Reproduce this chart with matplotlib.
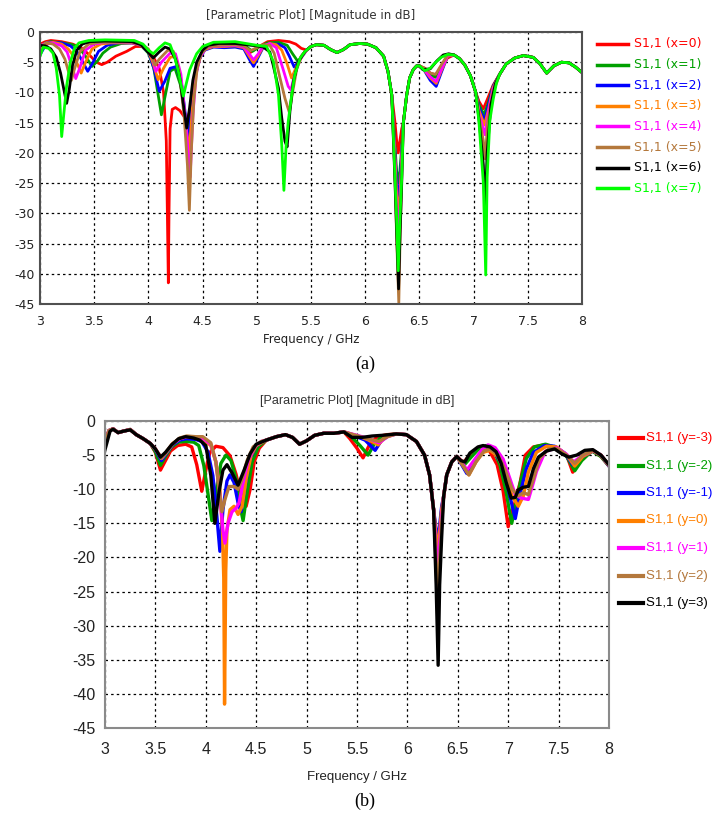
import matplotlib.pyplot as plt
from matplotlib.lines import Line2D

plt.rcParams['axes.unicode_minus'] = False
W, H = 713, 823

### Panel (a): S11 (dB) vs frequency (GHz), parameter x = 0..7
a_labels = ['S1,1 (x=0)', 'S1,1 (x=1)', 'S1,1 (x=2)', 'S1,1 (x=3)',
            'S1,1 (x=4)', 'S1,1 (x=5)', 'S1,1 (x=6)', 'S1,1 (x=7)']
a_colors = ['#ff0000', '#00a000', '#0000ff', '#ff8000',
            '#ff00ff', '#b4783c', '#000000', '#00ff00']

# shared parts of the curves (all traces overlap there)
a_mid = [(5.5, -2.4), (5.55, -2.1), (5.62, -2.2), (5.68, -2.9), (5.74, -3.4), (5.8, -2.9),
         (5.86, -2.1), (5.95, -1.9), (6.02, -2.0), (6.1, -2.6), (6.17, -4.0), (6.21, -6.5),
         (6.245, -10.4)]
a_cross = [(6.352, -15.0), (6.383, -10.4), (6.41, -7.6), (6.444, -6.2), (6.475, -5.6), (6.5, -5.6)]
a_peak = [(6.82, -3.8), (6.87, -4.4), (6.92, -5.5), (6.97, -7.2), (7.02, -10.0)]
a_tail = [(7.24, -7.0), (7.3, -5.3), (7.38, -4.3), (7.46, -3.9), (7.55, -4.2), (7.61, -5.2),
          (7.674, -6.8), (7.74, -5.6), (7.81, -5.0), (7.88, -5.1), (7.94, -5.8), (8.0, -6.7)]

a_x0_head = [(3.0, -2.0), (3.05, -1.6), (3.1, -1.4), (3.2, -1.6), (3.3, -2.0), (3.38, -2.6),
             (3.45, -3.7), (3.52, -5.0), (3.57, -5.4), (3.62, -5.0), (3.7, -4.0), (3.8, -3.2),
             (3.88, -2.4), (3.95, -2.4), (4.0, -3.0), (4.05, -4.3), (4.1, -6.0), (4.14, -10.0),
             (4.165, -18.0), (4.175, -30.0), (4.184, -41.5), (4.19, -30.0), (4.2, -16.0),
             (4.22, -12.8), (4.25, -12.5), (4.29, -13.0), (4.33, -14.0), (4.36, -14.5),
             (4.39, -12.5), (4.42, -8.5), (4.46, -5.0), (4.5, -3.2), (4.55, -2.5), (4.65, -2.1),
             (4.8, -2.0), (4.88, -2.3), (4.94, -3.4), (5.0, -2.6), (5.1, -1.6), (5.2, -1.4),
             (5.3, -1.6), (5.36, -2.0), (5.41, -2.7), (5.46, -3.0)]
a_x0_dip = [(6.275, -15.0), (6.29, -18.0), (6.305, -20.0), (6.32, -18.0), (6.337, -16.0)]
a_x0_band = [(6.55, -6.0), (6.6, -6.8), (6.65, -7.1), (6.7, -5.8), (6.76, -4.3)]
a_x0_notch = [(7.05, -11.5), (7.09, -12.7), (7.13, -11.0), (7.18, -8.8)]

a_x1_head = [(3.0, -2.5), (3.05, -1.8), (3.1, -1.6), (3.2, -1.8), (3.3, -2.1), (3.36, -2.6),
             (3.42, -4.0), (3.48, -5.7), (3.53, -4.8), (3.58, -3.5), (3.65, -2.5), (3.75, -1.9),
             (3.85, -1.8), (3.93, -2.2), (4.0, -3.5), (4.05, -6.0), (4.09, -10.4), (4.12, -13.7),
             (4.15, -11.0), (4.2, -6.5), (4.245, -6.0), (4.3, -9.0), (4.34, -14.0),
             (4.365, -16.5), (4.39, -13.0), (4.42, -8.5), (4.46, -5.0), (4.5, -3.2),
             (4.55, -2.6), (4.65, -2.2), (4.8, -2.1), (4.9, -2.4), (4.96, -3.2), (5.02, -2.5),
             (5.1, -1.8), (5.2, -1.7), (5.28, -2.2), (5.33, -3.6), (5.38, -4.9), (5.42, -4.0),
             (5.46, -3.0)]
a_x1_dip = [(6.275, -19.0), (6.29, -23.0), (6.305, -25.0), (6.32, -23.0), (6.337, -19.0)]
a_x1_band = [(6.55, -6.3), (6.6, -7.2), (6.65, -7.5), (6.7, -5.8), (6.76, -3.8)]
a_x1_notch = [(7.05, -12.0), (7.095, -13.7), (7.13, -12.0), (7.18, -9.0)]

a_x2_head = [(3.0, -3.8), (3.05, -2.2), (3.1, -1.7), (3.2, -1.8), (3.28, -2.3), (3.34, -3.2),
             (3.39, -4.8), (3.44, -6.5), (3.49, -5.0), (3.54, -3.2), (3.62, -2.2), (3.72, -1.8),
             (3.85, -1.8), (3.93, -2.2), (4.0, -3.3), (4.05, -6.0), (4.1, -9.8), (4.15, -8.2),
             (4.2, -6.0), (4.26, -5.7), (4.31, -9.0), (4.35, -15.0), (4.37, -18.0),
             (4.395, -13.0), (4.43, -7.5), (4.47, -4.5), (4.52, -3.0), (4.6, -2.5), (4.7, -2.6),
             (4.8, -2.5), (4.88, -2.8), (4.93, -4.5), (4.97, -5.7), (5.01, -4.3), (5.06, -2.5),
             (5.12, -2.0), (5.2, -2.0), (5.26, -2.6), (5.3, -4.0), (5.345, -5.8), (5.38, -5.0),
             (5.42, -3.8), (5.46, -3.0)]
a_x2_dip = [(6.275, -20.0), (6.29, -25.0), (6.305, -28.0), (6.32, -25.0), (6.337, -20.0)]
a_x2_band = [(6.55, -6.5), (6.6, -8.0), (6.655, -9.0), (6.7, -6.8), (6.76, -4.0)]
a_x2_notch = [(7.05, -12.5), (7.1, -14.6), (7.13, -12.5), (7.18, -9.0)]

a_x3_head = [(3.0, -3.0), (3.06, -2.0), (3.12, -1.7), (3.2, -2.0), (3.26, -2.8), (3.31, -4.0),
             (3.35, -5.5), (3.38, -6.8), (3.42, -5.0), (3.48, -2.8), (3.56, -2.0), (3.65, -1.8),
             (3.85, -1.8), (3.93, -2.2), (4.0, -3.2), (4.04, -5.0), (4.09, -7.9), (4.14, -6.0),
             (4.2, -4.2), (4.25, -4.0), (4.3, -8.0), (4.35, -16.0), (4.375, -20.0),
             (4.4, -14.0), (4.43, -7.5), (4.47, -4.3), (4.52, -2.9), (4.6, -2.4), (4.7, -2.4),
             (4.8, -2.3), (4.88, -2.6), (4.93, -4.0), (4.97, -5.1), (5.01, -4.0), (5.06, -2.4),
             (5.12, -1.9), (5.18, -2.1), (5.23, -3.0), (5.28, -5.3), (5.32, -7.6), (5.36, -6.0),
             (5.41, -4.0), (5.46, -3.0)]
a_x3_dip = [(6.275, -21.0), (6.29, -27.0), (6.305, -30.0), (6.32, -27.0), (6.337, -21.0)]
a_x3_band = [(6.55, -6.4), (6.6, -7.6), (6.655, -8.5), (6.7, -6.5), (6.76, -4.0)]
a_x3_notch = [(7.05, -13.0), (7.1, -15.4), (7.135, -13.0), (7.18, -9.2)]

a_x4_head = [(3.0, -2.3), (3.06, -1.8), (3.12, -1.8), (3.2, -2.3), (3.25, -3.3), (3.29, -5.5),
             (3.33, -7.7), (3.37, -5.8), (3.42, -3.0), (3.5, -2.0), (3.6, -1.7), (3.85, -1.8),
             (3.93, -2.1), (4.0, -3.0), (4.04, -4.5), (4.07, -6.5), (4.12, -5.0), (4.2, -3.5),
             (4.25, -3.6), (4.3, -7.0), (4.35, -16.0), (4.385, -24.0), (4.41, -14.0),
             (4.44, -7.0), (4.48, -4.0), (4.53, -2.7), (4.6, -2.3), (4.7, -2.3), (4.8, -2.2),
             (4.88, -2.5), (4.93, -3.6), (4.97, -4.6), (5.01, -3.7), (5.06, -2.3), (5.12, -1.9),
             (5.18, -2.6), (5.24, -6.0), (5.29, -9.0), (5.315, -9.6), (5.35, -7.0),
             (5.4, -4.5), (5.46, -3.0)]
a_x4_dip = [(6.275, -22.0), (6.29, -29.0), (6.305, -34.0), (6.32, -29.0), (6.337, -22.0)]
a_x4_band = [(6.55, -6.3), (6.6, -7.4), (6.655, -8.2), (6.7, -6.3), (6.76, -3.9)]
a_x4_notch = [(7.05, -13.5), (7.105, -17.0), (7.14, -13.0), (7.18, -9.5)]

a_x5_head = [(3.0, -2.5), (3.06, -1.8), (3.12, -2.0), (3.18, -2.8), (3.23, -4.5), (3.27, -7.0),
             (3.29, -8.0), (3.32, -6.0), (3.37, -3.2), (3.45, -2.0), (3.55, -1.7), (3.85, -1.7),
             (3.93, -2.0), (4.0, -2.8), (4.03, -4.0), (4.06, -5.5), (4.1, -4.5), (4.18, -3.0),
             (4.23, -3.2), (4.28, -6.0), (4.33, -14.0), (4.36, -22.0), (4.378, -29.5),
             (4.395, -20.0), (4.42, -11.0), (4.45, -6.0), (4.49, -3.5), (4.55, -2.4),
             (4.65, -2.2), (4.8, -2.1), (4.88, -2.3), (4.94, -3.1), (5.0, -2.6), (5.06, -2.1),
             (5.12, -2.2), (5.16, -3.5), (5.21, -7.3), (5.26, -11.0), (5.3, -13.3),
             (5.33, -10.0), (5.37, -6.0), (5.42, -3.8), (5.46, -3.0)]
a_x5_dip = [(6.275, -24.0), (6.29, -34.0), (6.31, -44.8), (6.322, -34.0), (6.337, -24.0)]
a_x5_band = [(6.55, -6.0), (6.6, -6.8), (6.65, -7.0), (6.7, -5.5), (6.76, -3.8)]
a_x5_notch = [(7.05, -14.0), (7.09, -18.0), (7.107, -21.0), (7.13, -15.0), (7.18, -10.0)]

a_x6_head = [(3.0, -2.2), (3.05, -2.3), (3.1, -2.8), (3.15, -4.2), (3.19, -6.8), (3.22, -9.5),
             (3.246, -11.8), (3.27, -9.5), (3.3, -5.5), (3.34, -3.0), (3.39, -2.0), (3.46, -1.6),
             (3.6, -1.5), (3.85, -1.6), (3.93, -2.1), (3.98, -3.0), (4.045, -4.3), (4.1, -3.3),
             (4.153, -2.5), (4.2, -2.8), (4.25, -4.5), (4.29, -7.6), (4.33, -13.0),
             (4.353, -15.9), (4.38, -12.5), (4.41, -8.0), (4.445, -5.0), (4.5, -3.0),
             (4.55, -2.2), (4.65, -1.9), (4.8, -1.9), (4.9, -2.1), (5.0, -2.3), (5.06, -2.5),
             (5.12, -3.3), (5.15, -5.4), (5.2, -9.3), (5.23, -14.2), (5.26, -18.1), (5.28, -19.0),
             (5.306, -13.1), (5.337, -8.2), (5.383, -4.9), (5.45, -3.1)]
a_x6_dip = [(6.275, -25.0), (6.29, -33.0), (6.308, -42.5), (6.322, -33.0), (6.337, -25.0)]
a_x6_band = [(6.53, -6.2), (6.6, -6.1), (6.66, -4.8), (6.72, -3.8), (6.77, -3.6)]
a_x6_notch = [(7.05, -14.5), (7.09, -22.0), (7.105, -30.0), (7.125, -20.0), (7.16, -12.0),
              (7.2, -8.6)]

a_x7_head = [(3.0, -4.0), (3.03, -2.5), (3.08, -2.7), (3.12, -3.5), (3.15, -6.0), (3.18, -10.5),
             (3.2, -17.3), (3.22, -13.5), (3.245, -9.0), (3.28, -5.0), (3.32, -2.6), (3.36, -1.8),
             (3.45, -1.4), (3.6, -1.3), (3.87, -1.4), (3.95, -2.0), (4.0, -3.0), (4.045, -3.6),
             (4.1, -2.6), (4.153, -1.8), (4.2, -2.1), (4.24, -4.0), (4.276, -6.5),
             (4.322, -10.6), (4.35, -8.5), (4.38, -6.3), (4.445, -3.6), (4.5, -2.4), (4.6, -1.7),
             (4.8, -1.6), (4.9, -1.9), (5.0, -2.2), (5.09, -2.4), (5.153, -4.9), (5.2, -10.4),
             (5.23, -18.6), (5.25, -26.2), (5.27, -19.0), (5.29, -14.8), (5.322, -10.4),
             (5.35, -7.1), (5.4, -4.3), (5.445, -3.2)]
a_x7_dip = [(6.275, -24.0), (6.29, -31.0), (6.305, -39.5), (6.32, -31.0), (6.337, -24.0)]
a_x7_band = [(6.55, -6.4), (6.6, -6.0), (6.64, -5.2), (6.7, -4.2), (6.76, -3.7)]
a_x7_notch = [(7.05, -15.0), (7.09, -25.0), (7.112, -40.2), (7.125, -24.0), (7.15, -14.6),
              (7.18, -11.2), (7.21, -8.5)]

a_heads = [a_x0_head, a_x1_head, a_x2_head, a_x3_head, a_x4_head, a_x5_head, a_x6_head, a_x7_head]
a_dips = [a_x0_dip, a_x1_dip, a_x2_dip, a_x3_dip, a_x4_dip, a_x5_dip, a_x6_dip, a_x7_dip]
a_bands = [a_x0_band, a_x1_band, a_x2_band, a_x3_band, a_x4_band, a_x5_band, a_x6_band, a_x7_band]
a_notches = [a_x0_notch, a_x1_notch, a_x2_notch, a_x3_notch, a_x4_notch, a_x5_notch,
             a_x6_notch, a_x7_notch]

### Panel (b): S11 (dB) vs frequency (GHz), parameter y = -3..3
b_labels = ['S1,1 (y=-3)', 'S1,1 (y=-2)', 'S1,1 (y=-1)', 'S1,1 (y=0)',
            'S1,1 (y=1)', 'S1,1 (y=2)', 'S1,1 (y=3)']
b_colors = ['#ff0000', '#00a000', '#0000ff', '#ff8000', '#ff00ff', '#b4783c', '#000000']

b_head = [(3.04, -1.4), (3.08, -1.15), (3.13, -1.7), (3.18, -1.5), (3.25, -1.25), (3.31, -2.0),
          (3.38, -2.6), (3.45, -3.3)]
b_plateau = [(4.6, -2.8), (4.7, -2.3), (4.79, -2.0), (4.86, -2.4), (4.93, -3.4), (5.0, -2.9),
             (5.08, -2.1), (5.17, -1.8), (5.27, -1.8), (5.37, -1.6)]
b_drop = [(5.89, -1.9), (5.99, -2.0), (6.09, -3.0), (6.17, -5.0), (6.22, -7.9), (6.26, -13.0)]
b_cross = [(6.36, -11.0), (6.39, -7.9), (6.44, -6.0), (6.49, -5.2)]

b_m3 = [[(3.0, -3.0)], b_head,
        [(3.5, -4.6), (3.55, -7.2), (3.6, -5.8), (3.65, -4.4), (3.72, -3.6), (3.8, -3.4),
         (3.86, -3.8), (3.91, -6.4), (3.96, -10.3), (4.0, -7.2), (4.04, -4.6), (4.1, -3.7),
         (4.17, -3.9), (4.24, -5.1), (4.3, -7.8), (4.35, -11.0), (4.4, -12.5), (4.44, -10.0),
         (4.48, -6.0), (4.53, -4.0)],
        b_plateau,
        [(5.43, -2.6), (5.5, -4.0), (5.56, -5.4), (5.62, -3.6), (5.7, -2.3), (5.8, -2.0)],
        b_drop,
        [(6.285, -17.0), (6.3, -20.0), (6.315, -17.0), (6.34, -13.0)],
        b_cross,
        [(6.555, -6.1), (6.62, -5.0), (6.72, -4.0), (6.8, -4.0), (6.89, -6.4), (6.95, -10.3),
         (7.0, -15.5), (7.035, -13.5), (7.07, -11.8), (7.12, -8.9), (7.17, -5.0), (7.25, -3.8),
         (7.36, -3.5), (7.48, -3.9), (7.58, -5.0), (7.64, -7.5), (7.7, -6.0), (7.75, -5.3),
         (7.83, -4.3), (7.92, -5.2), (8.0, -6.6)]]
b_m2 = [[(3.0, -3.2)], b_head,
        [(3.5, -4.5), (3.55, -6.5), (3.6, -5.2), (3.66, -3.8), (3.73, -3.1), (3.8, -3.0),
         (3.88, -3.1), (3.93, -3.6), (3.98, -6.5), (4.02, -10.5), (4.06, -14.6), (4.1, -10.5),
         (4.15, -6.2), (4.2, -5.0), (4.25, -5.8), (4.3, -8.5), (4.34, -12.5), (4.37, -14.6),
         (4.41, -10.5), (4.46, -6.0), (4.52, -3.8)],
        b_plateau,
        [(5.45, -2.4), (5.53, -3.6), (5.61, -5.0), (5.67, -3.4), (5.75, -2.2)],
        b_drop,
        [(6.285, -18.0), (6.3, -21.0), (6.315, -18.0), (6.34, -13.5)],
        b_cross,
        [(6.56, -6.5), (6.62, -5.5), (6.7, -4.2), (6.78, -3.6), (6.85, -4.0), (6.92, -6.5),
         (6.98, -10.5), (7.035, -15.0), (7.07, -12.5), (7.12, -9.0), (7.18, -5.5),
         (7.26, -3.8), (7.37, -3.4), (7.48, -3.9), (7.58, -5.2), (7.66, -7.3), (7.73, -5.8),
         (7.83, -4.4), (7.92, -5.2), (8.0, -6.6)]]
b_m1 = [[(3.0, -3.0)], b_head,
        [(3.5, -4.2), (3.56, -5.8), (3.61, -4.7), (3.67, -3.5), (3.74, -2.8), (3.81, -2.6),
         (3.9, -2.7), (3.96, -3.0), (4.02, -4.5), (4.07, -8.0), (4.11, -14.0), (4.14, -19.1),
         (4.17, -13.0), (4.21, -8.8), (4.24, -7.9), (4.28, -9.0), (4.32, -12.0), (4.35, -13.3),
         (4.39, -9.5), (4.44, -5.5), (4.5, -3.6)],
        b_plateau,
        [(5.48, -2.2), (5.58, -2.8), (5.68, -4.3), (5.74, -2.9), (5.82, -2.1)],
        b_drop,
        [(6.285, -16.0), (6.3, -17.5), (6.315, -16.0), (6.34, -12.5)],
        b_cross,
        [(6.59, -7.7), (6.66, -6.0), (6.73, -4.6), (6.8, -4.2), (6.87, -4.6), (6.94, -6.5),
         (7.0, -10.0), (7.07, -14.3), (7.12, -10.5), (7.18, -7.0), (7.25, -4.6), (7.36, -3.6),
         (7.46, -3.7), (7.56, -4.7), (7.64, -6.4), (7.72, -5.4), (7.84, -4.4), (7.92, -5.0),
         (8.0, -6.6)]]
b_0 = [[(3.0, -3.0)], b_head,
       [(3.5, -4.1), (3.56, -5.4), (3.61, -4.5), (3.67, -3.3), (3.74, -2.6), (3.81, -2.3),
        (3.9, -2.4), (3.97, -2.6), (4.05, -3.6), (4.1, -6.0), (4.14, -10.0), (4.165, -16.0),
        (4.178, -23.0), (4.186, -41.5), (4.192, -32.0), (4.198, -22.0), (4.21, -16.0),
        (4.24, -13.0), (4.28, -12.5), (4.32, -13.7), (4.36, -12.5), (4.4, -8.5), (4.45, -5.0),
        (4.5, -3.6)],
       b_plateau,
       [(5.55, -2.4), (5.65, -3.0), (5.71, -3.5), (5.77, -2.5), (5.85, -2.0)],
       b_drop,
       [(6.285, -17.0), (6.3, -19.0), (6.315, -17.0), (6.34, -13.0)],
       b_cross,
       [(6.55, -6.5), (6.61, -7.9), (6.68, -6.0), (6.75, -4.6), (6.82, -4.3), (6.9, -5.2),
        (6.97, -7.8), (7.04, -11.0), (7.1, -12.5), (7.15, -11.0), (7.2, -7.5), (7.28, -4.6),
        (7.38, -3.7), (7.48, -3.8), (7.58, -5.0), (7.66, -6.6), (7.74, -5.2), (7.84, -4.4),
        (7.92, -5.0), (8.0, -6.5)]]
b_p1 = [[(3.0, -3.0)], b_head,
        [(3.5, -4.1), (3.56, -5.5), (3.61, -4.6), (3.67, -3.4), (3.74, -2.6), (3.81, -2.3),
         (3.9, -2.4), (3.97, -2.5), (4.05, -3.4), (4.1, -6.0), (4.14, -11.0), (4.17, -16.0),
         (4.19, -17.9), (4.22, -15.0), (4.26, -13.3), (4.3, -12.8), (4.33, -12.0), (4.37, -9.0),
         (4.42, -5.8), (4.48, -3.8), (4.55, -3.0)],
        b_plateau,
        [(5.6, -2.5), (5.72, -3.2), (5.8, -2.3)],
        b_drop,
        [(6.285, -19.0), (6.3, -23.0), (6.315, -19.0), (6.34, -14.0)],
        b_cross,
        [(6.54, -6.0), (6.59, -7.2), (6.66, -5.8), (6.74, -4.2), (6.8, -3.5), (6.87, -3.9),
         (6.95, -5.6), (7.02, -8.6), (7.07, -10.8), (7.13, -11.3), (7.2, -11.5), (7.24, -9.5),
         (7.28, -7.4), (7.365, -4.5), (7.48, -3.9), (7.58, -4.9), (7.65, -6.0), (7.74, -5.0),
         (7.84, -4.3), (7.92, -5.0), (8.0, -6.5)]]
b_p2 = [[(3.0, -3.0)], b_head,
        [(3.5, -4.1), (3.56, -5.5), (3.61, -4.6), (3.67, -3.4), (3.74, -2.5), (3.81, -2.2),
         (3.9, -2.3), (3.97, -2.3), (4.05, -3.2), (4.1, -6.0), (4.14, -11.0), (4.16, -13.3),
         (4.19, -11.5), (4.23, -9.6), (4.28, -9.6), (4.32, -10.0), (4.36, -8.5), (4.41, -5.8),
         (4.47, -3.8), (4.55, -3.0)],
        b_plateau,
        [(5.6, -2.6), (5.72, -3.0), (5.8, -2.3)],
        b_drop,
        [(6.285, -21.0), (6.303, -30.0), (6.318, -21.0), (6.34, -15.0)],
        b_cross,
        [(6.55, -6.5), (6.61, -7.9), (6.68, -6.0), (6.76, -4.4), (6.82, -4.1), (6.9, -5.0),
         (6.97, -7.2), (7.04, -10.0), (7.1, -11.0), (7.15, -10.5), (7.2, -10.8), (7.25, -8.5),
         (7.31, -5.5), (7.4, -4.1), (7.48, -4.0), (7.58, -5.0), (7.66, -6.2), (7.74, -5.0),
         (7.84, -4.3), (7.92, -5.0), (8.0, -6.5)]]
b_p3 = [[(3.0, -4.2), (3.05, -1.5), (3.08, -1.2), (3.13, -1.7), (3.18, -1.5), (3.25, -1.3),
         (3.31, -2.0), (3.38, -2.6), (3.45, -3.3)],
        [(3.5, -4.1), (3.55, -5.3), (3.6, -4.6), (3.66, -3.5), (3.73, -2.6), (3.8, -2.3),
         (3.88, -2.5), (3.94, -2.8), (4.0, -3.6), (4.05, -8.0), (4.09, -15.0), (4.13, -10.5),
         (4.17, -7.2), (4.21, -6.4), (4.26, -7.6), (4.32, -9.4), (4.38, -7.2), (4.44, -4.8),
         (4.5, -3.4)],
        b_plateau,
        [(5.45, -2.4), (5.55, -2.4), (5.65, -2.2), (5.75, -2.1)],
        b_drop,
        [(6.285, -24.0), (6.305, -35.8), (6.32, -24.0), (6.34, -17.0)],
        b_cross,
        [(6.53, -5.8), (6.57, -6.0), (6.62, -4.7), (6.7, -3.8), (6.75, -3.6), (6.82, -3.8),
         (6.88, -4.5), (6.93, -6.2), (6.98, -9.0), (7.03, -11.3), (7.07, -11.2), (7.1, -10.1),
         (7.15, -9.7), (7.2, -9.6), (7.25, -7.0), (7.3, -5.3), (7.38, -4.4), (7.46, -4.1),
         (7.53, -4.8), (7.6, -5.3), (7.68, -5.0), (7.76, -4.3), (7.84, -4.2), (7.92, -5.0),
         (8.0, -6.4)]]
b_curves = [b_m3, b_m2, b_m1, b_0, b_p1, b_p2, b_p3]


def px(x, y):
    return x / W, 1 - y / H


def style_axes(ax, font, size, spine_col, pad_x, pad_y):
    ax.set_xlim(3, 8)
    ax.set_ylim(-45, 0)
    ax.set_xticks([3, 3.5, 4, 4.5, 5, 5.5, 6, 6.5, 7, 7.5, 8])
    ax.set_xticklabels(['3', '3.5', '4', '4.5', '5', '5.5', '6', '6.5', '7', '7.5', '8'])
    ax.set_yticks(range(-45, 1, 5))
    ax.grid(True, color='black', linestyle=(0, (2, 2.5)), linewidth=0.9)
    ax.tick_params(length=0, labelsize=size, colors='#222222')
    ax.tick_params(axis='x', pad=pad_x)
    ax.tick_params(axis='y', pad=pad_y)
    for lab in ax.get_xticklabels() + ax.get_yticklabels():
        lab.set_family(font)
    for s in ax.spines.values():
        s.set_color(spine_col)
        s.set_linewidth(1.5)


fig = plt.figure(figsize=(W / 100, H / 100), dpi=100)

### (a)
axa = fig.add_axes([40 / W, 1 - 304 / H, 542 / W, 272 / H])
for i in range(8):
    pts = a_heads[i] + a_mid + a_dips[i] + a_cross + a_bands[i] + a_peak + a_notches[i] + a_tail
    f, s = zip(*pts)
    axa.plot(f, s, color=a_colors[i], lw=2.0, solid_joinstyle='round')
style_axes(axa, 'DejaVu Sans', 9, '#505050', 8, 4)
fig.text(*px(311, 16), '[Parametric Plot] [Magnitude in dB]', ha='center', va='center',
         fontsize=8.5, color='#333333')
fig.text(*px(311, 340), 'Frequency / GHz', ha='center', va='center', fontsize=8.5, color='#222222')
fig.text(*px(365, 364), '(a)', ha='center', va='center', fontsize=13, family='Liberation Serif')
for i in range(8):
    y = 44 + 20.6 * i
    fig.add_artist(Line2D([597 / W, 628 / W], [1 - y / H] * 2, color=a_colors[i], lw=2.5))
    fig.text(*px(634, y), a_labels[i], ha='left', va='center', fontsize=9, color=a_colors[i])

### (b)
sans = 'Liberation Sans'
axb = fig.add_axes([105 / W, 1 - 728 / H, 504 / W, 307 / H])
for i in range(7):
    pts = [p for seg in b_curves[i] for p in seg]
    f, s = zip(*pts)
    axb.plot(f, s, color=b_colors[i], lw=2.4, solid_joinstyle='round')
style_axes(axb, sans, 11.5, '#8a8a8a', 10, 7)
fig.text(*px(357, 401), '[Parametric Plot] [Magnitude in dB]', ha='center', va='center',
         fontsize=9, color='#333333', family=sans)
fig.text(*px(357, 777), 'Frequency / GHz', ha='center', va='center', fontsize=9.5,
         color='#222222', family=sans)
fig.text(*px(365, 801), '(b)', ha='center', va='center', fontsize=13, family='Liberation Serif')
for i in range(7):
    y = 438 + 27.5 * i
    fig.add_artist(Line2D([619 / W, 643 / W], [1 - y / H] * 2, color=b_colors[i], lw=3))
    fig.text(*px(646, y), b_labels[i], ha='left', va='center', fontsize=9.5,
             color=b_colors[i], family=sans)

fig.savefig('out.png', dpi=100)
